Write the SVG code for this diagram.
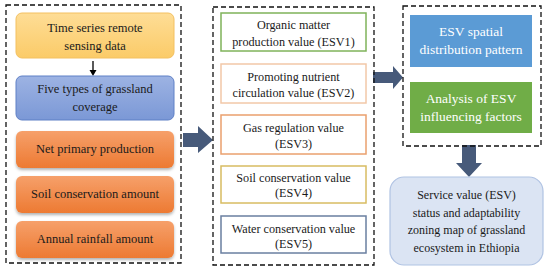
<svg xmlns="http://www.w3.org/2000/svg" width="550" height="272" viewBox="0 0 550 272">
<defs>
<linearGradient id="gy" x1="0" y1="0" x2="0" y2="1"><stop offset="0" stop-color="#fedd96"/><stop offset="1" stop-color="#fbcb68"/></linearGradient>
<linearGradient id="gb" x1="0" y1="0" x2="0" y2="1"><stop offset="0" stop-color="#9db3e3"/><stop offset="1" stop-color="#7b98d6"/></linearGradient>
<linearGradient id="go" x1="0" y1="0" x2="0" y2="1"><stop offset="0" stop-color="#f6a06a"/><stop offset="1" stop-color="#ed7a33"/></linearGradient>
<filter id="sh" x="-10%" y="-20%" width="120%" height="150%"><feDropShadow dx="0" dy="2" stdDeviation="1.5" flood-color="#000" flood-opacity="0.3"/></filter>
</defs>
<style>
text{font-family:'Liberation Serif','Times New Roman',serif;font-size:12.5px;fill:#1a1a1a;text-anchor:middle}
.m{font-size:12.2px}
.b{font-size:12px}
.dash{fill:none;stroke:#111;stroke-width:1.3;stroke-dasharray:5,3}
.mid{fill:#fff;stroke-width:1.5}
.w{fill:#fff;font-size:13.5px}
.arr{fill:#475a7a}
</style>
<g id="connectors">
<line x1="93" y1="61" x2="93" y2="71" stroke="#000" stroke-width="1.3"/>
<polygon points="89.5,70 96.5,70 93,76" fill="#000"/>
<polygon class="arr" points="183,133 198,133 198,126 213,140 198,153 198,147 183,147"/>
<polygon class="arr" points="373,72 393,72 393,66 403,77.5 393,89 393,83 373,83"/>
<polygon class="arr" points="462,145 476,145 476,163 482,163 469,177 456,163 462,163"/>
</g>
<g id="group-inputs"><rect class="dash" x="6" y="5" width="175" height="258"/></g>
<g id="group-esv"><rect class="dash" x="213" y="7" width="161" height="258"/></g>
<g id="group-analysis"><rect class="dash" x="403" y="6" width="138" height="140"/></g>
<g id="n-remote">
<rect x="16" y="13" width="158" height="45" rx="6" fill="url(#gy)" stroke="#f3c060" stroke-width="1"/>
<text x="95" y="32">Time series remote</text><text x="95" y="50">sensing data</text>
</g>
<g id="n-coverage">
<rect x="16" y="76" width="158" height="44" rx="6" fill="url(#gb)" stroke="#5f80c6" stroke-width="1"/>
<text x="95" y="93">Five types of grassland</text><text x="95" y="111">coverage</text>
</g>
<g id="n-npp">
<rect x="16" y="131" width="158" height="37" rx="6" fill="url(#go)" filter="url(#sh)"/>
<text x="95" y="153">Net primary production</text>
</g>
<g id="n-soil">
<rect x="16" y="176" width="158" height="37" rx="6" fill="url(#go)" filter="url(#sh)"/>
<text x="95" y="198">Soil conservation amount</text>
</g>
<g id="n-rain">
<rect x="16" y="221" width="158" height="37" rx="6" fill="url(#go)" filter="url(#sh)"/>
<text x="95" y="243">Annual rainfall amount</text>
</g>
<g id="n-esv1">
<rect class="mid" x="221" y="13" width="145" height="38" stroke="#7fb35a"/>
<text class="m" x="293.5" y="29">Organic matter</text><text class="m" x="293.5" y="46">production value (ESV1)</text>
</g>
<g id="n-esv2">
<rect class="mid" x="221" y="64" width="145" height="39" stroke="#f2c8a8"/>
<text class="m" x="293.5" y="81">Promoting nutrient</text><text class="m" x="293.5" y="97">circulation value (ESV2)</text>
</g>
<g id="n-esv3">
<rect class="mid" x="221" y="115" width="145" height="39" stroke="#eaa06e"/>
<text class="m" x="293.5" y="132">Gas regulation value</text><text class="m" x="293.5" y="148">(ESV3)</text>
</g>
<g id="n-esv4">
<rect class="mid" x="221" y="166" width="145" height="37" stroke="#d8bc62"/>
<text class="m" x="293.5" y="182">Soil conservation value</text><text class="m" x="293.5" y="197">(ESV4)</text>
</g>
<g id="n-esv5">
<rect class="mid" x="221" y="216" width="145" height="37" stroke="#6a7fa0"/>
<text class="m" x="293.5" y="233">Water conservation value</text><text class="m" x="293.5" y="248">(ESV5)</text>
</g>
<g id="n-spatial">
<rect x="410" y="15" width="122" height="52" fill="#5b9bd5"/>
<text class="w" x="471" y="36">ESV spatial</text><text class="w" x="471" y="54">distribution pattern</text>
</g>
<g id="n-factors">
<rect x="410" y="82" width="122" height="51" fill="#70ad47"/>
<text class="w" x="471" y="103">Analysis of ESV</text><text class="w" x="471" y="121">influencing factors</text>
</g>
<g id="n-result">
<rect x="390" y="177" width="153" height="88" rx="14" fill="#dbe4f3" stroke="#b0c3e3" stroke-width="1.2"/>
<text class="b" x="466.5" y="199">Service value (ESV)</text>
<text class="b" x="466.5" y="217">status and adaptability</text>
<text class="b" x="466.5" y="234">zoning map of grassland</text>
<text class="b" x="466.5" y="252">ecosystem in Ethiopia</text>
</g>
</svg>
